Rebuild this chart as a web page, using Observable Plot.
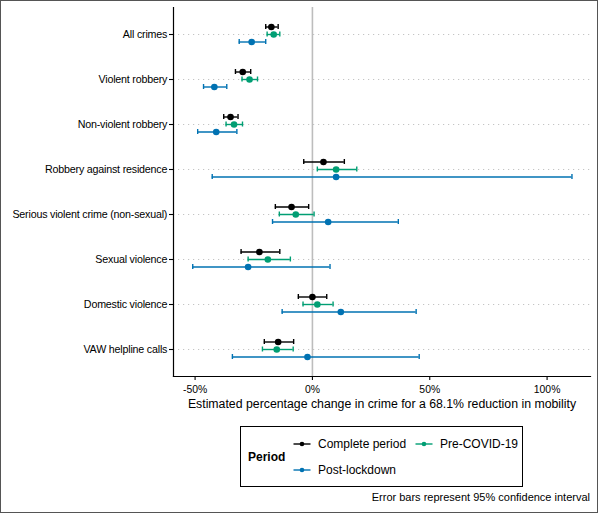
<!DOCTYPE html>
<html>
<head>
<meta charset="utf-8">
<script src="https://cdn.jsdelivr.net/npm/d3@7"></script>
<script src="https://cdn.jsdelivr.net/npm/@observablehq/plot@0.6"></script>
<style>
  html, body { margin: 0; padding: 0; background: #fff; }
  #wrap { position: relative; width: 598px; height: 513px; overflow: hidden; background: #fff;
          font-family: "Liberation Sans", Arial, Helvetica, sans-serif; color: #000; }
  #border { position: absolute; left: 0; top: 0; width: 598px; height: 513px; box-sizing: border-box;
            border: 1px solid #555; pointer-events: none; }
  #chart { position: absolute; left: 0; top: 0; }
  #chart g[aria-label="y-axis tick label"] text { letter-spacing: -0.2px; }
  #legend { position: absolute; left: 240px; top: 426px; width: 283px; height: 61px; box-sizing: border-box;
            border: 1.3px solid #000; }
  .lg-title { position: absolute; font-weight: bold; font-size: 12px; line-height: 14px; }
  .lg-item { position: absolute; font-size: 12px; line-height: 14px; white-space: nowrap; }
  .lg-item svg { position: absolute; left: -25px; top: 0; }
  #caption { position: absolute; right: 8px; top: 491px; font-size: 11px; line-height: 13px; white-space: nowrap; }
</style>
</head>
<body>
<div id="wrap">
  <div id="chart"></div>
  <div id="legend"></div>
  <div id="caption"></div>
  <div id="border"></div>
</div>
<script>
const categories = [
  "All crimes",
  "Violent robbery",
  "Non-violent robbery",
  "Robbery against residence",
  "Serious violent crime (non-sexual)",
  "Sexual violence",
  "Domestic violence",
  "VAW helpline calls"
];
const periods = ["Complete period", "Pre-COVID-19", "Post-lockdown"];
const periodColors = ["#000000", "#009E73", "#0072B2"];

// estimates and 95% CI (percent change)
const completeEst = [-17.5, -29.7, -34.9, 4.7, -8.9, -22.6, 0.0, -14.6];
const completeLo  = [-19.9, -32.8, -37.8, -3.7, -15.8, -30.4, -6.0, -20.5];
const completeHi  = [-14.6, -26.3, -31.7, 13.6, -1.6, -13.9, 6.1, -8.0];

const preEst = [-16.5, -26.8, -33.4, 10.1, -7.1, -19.0, 2.1, -15.2];
const preLo  = [-19.3, -30.0, -36.8, 2.1, -14.1, -27.4, -4.0, -21.3];
const preHi  = [-13.9, -23.4, -29.8, 18.9, 0.7, -9.4, 8.8, -8.2];

const postEst = [-25.9, -41.8, -41.0, 10.1, 6.7, -27.4, 12.1, -2.1];
const postLo  = [-31.2, -46.4, -48.9, -42.7, -17.0, -51.0, -12.9, -34.1];
const postHi  = [-19.9, -36.5, -32.2, 110.6, 36.6, 7.5, 44.2, 45.5];

const xTicks = [-50, 0, 50, 100];
const xLabel = "Estimated percentage change in crime for a 68.1% reduction in mobility";
const legendTitle = "Period";
const captionText = "Error bars represent 95% confidence interval";

const series = [
  [completeEst, completeLo, completeHi],
  [preEst, preLo, preHi],
  [postEst, postLo, postHi]
];

const W = 598, H = 415, mT = 7, mB = 39, mL = 173, mR = 8;
const step = (H - mT - mB) / (categories.length + 0.2);
const capH = 5;
const capInset = (step - capH) / 2;
const dodge = [-7.5, 0, 7.5];

const marks = [
  Plot.ruleY(categories, {stroke: "#c4c4c4", strokeWidth: 1.1, strokeDasharray: "1.2,3.8"}),
  Plot.ruleX([0], {stroke: "#bdbdbd", strokeWidth: 1.6})
];

series.forEach((s, i) => {
  const rows = categories.map((c, j) => ({cat: c, est: s[0][j], lo: s[1][j], hi: s[2][j], period: periods[i]}));
  const col = periodColors[i];
  const dy = dodge[i];
  marks.push(
    Plot.ruleY(rows, {y: "cat", x1: "lo", x2: "hi", stroke: col, strokeWidth: 1.4, dy}),
    Plot.tickX(rows, {y: "cat", x: "lo", stroke: col, strokeWidth: 1.4, insetTop: capInset, insetBottom: capInset, dy}),
    Plot.tickX(rows, {y: "cat", x: "hi", stroke: col, strokeWidth: 1.4, insetTop: capInset, insetBottom: capInset, dy}),
    Plot.dot(rows, {y: "cat", x: "est", fill: col, r: 3.3, dy})
  );
});

marks.push(
  Plot.axisY({tickSize: 4, tickPadding: 2.3, fontSize: 10.7, label: null, stroke: "#000", strokeWidth: 1.1}),
  Plot.axisX({ticks: xTicks, tickFormat: d => d + "%", tickSize: 4, tickPadding: 5, fontSize: 10.4, label: null, stroke: "#000", strokeWidth: 1.1}),
  Plot.frame({anchor: "left", stroke: "#000", strokeWidth: 1.2}),
  Plot.frame({anchor: "bottom", stroke: "#000", strokeWidth: 1.2}),
  Plot.text([xLabel], {frameAnchor: "bottom", dy: 27.3, lineAnchor: "middle", fontSize: 12.3, fill: "#000"})
);

const chart = Plot.plot({
  width: W, height: H,
  marginTop: mT, marginBottom: mB, marginLeft: mL, marginRight: mR,
  style: {fontFamily: '"Liberation Sans", Arial, Helvetica, sans-serif', color: "#000", background: "transparent", overflow: "visible"},
  x: {domain: [-59.2, 118.5], nice: false, axis: null},
  y: {type: "band", domain: categories, paddingInner: 0, paddingOuter: 0.1, align: 0.5, round: false, axis: null},
  marks
});
document.getElementById("chart").appendChild(chart);

// Legend
const legend = document.getElementById("legend");
const t = document.createElement("div");
t.className = "lg-title";
t.textContent = legendTitle;
t.style.left = "7px"; t.style.top = "23px";
legend.appendChild(t);
const itemPos = [[77, 9.5], [199, 9.5], [77, 36]];
periods.forEach((p, i) => {
  const d = document.createElement("div");
  d.className = "lg-item";
  d.style.left = itemPos[i][0] + "px";
  d.style.top = itemPos[i][1] + "px";
  d.innerHTML = `<svg width="18" height="14"><line x1="0.5" x2="17.5" y1="7" y2="7" stroke="${periodColors[i]}" stroke-width="1.4"/><circle cx="9" cy="7" r="2.3" fill="${periodColors[i]}"/></svg>`;
  d.appendChild(document.createTextNode(p));
  legend.appendChild(d);
});
document.getElementById("caption").textContent = captionText;
</script>
</body>
</html>
